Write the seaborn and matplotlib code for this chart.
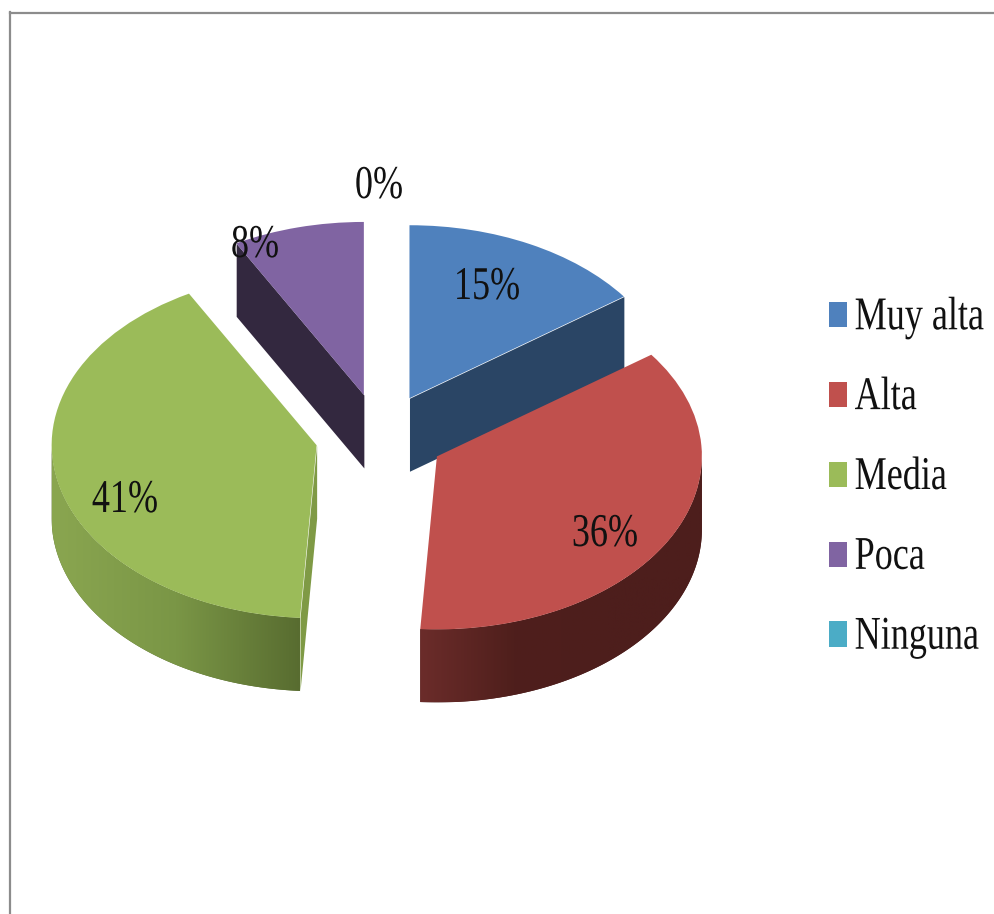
import matplotlib
matplotlib.use('Agg')
import matplotlib.patheffects as path_effects
import matplotlib.pyplot as plt
from matplotlib.colors import LinearSegmentedColormap
from matplotlib.transforms import Affine2D
import numpy as np
import seaborn as sns

categories = ['Muy alta', 'Alta', 'Media', 'Poca', 'Ninguna']
values = [15, 36, 41, 8, 0]
colors = ['#4f81bd', '#c0504d', '#9bbb59', '#8064a2', '#4bacc6']

sns.set_theme(style='white')
plt.rcParams['font.family'] = ['Liberation Serif', 'DejaVu Serif']

# Pixel layout of the picture, the pie is squashed to look tilted
W, H = 995, 914
CX, CY, RX, RY = 380, 436, 265, 173
DEPTH = 73 / RY


def to_x(px):
    return (px - CX) / RX


def to_y(py):
    return (CY - py) / RY


class TallText(path_effects.AbstractPathEffect):
    # The text in the picture is stretched upwards
    def __init__(self, drop=0):
        super().__init__()
        self.drop = drop

    def draw_path(self, renderer, gc, tpath, affine, rgbFace=None):
        shifted = Affine2D().scale(1, 1.3) + affine + Affine2D().translate(0, -self.drop)
        renderer.draw_path(gc, tpath, shifted, rgbFace)


fig = plt.figure(figsize=(W / 100, H / 100), dpi=100)
ax = fig.add_axes([9.5 / W, 0, 1 - 9.5 / W, 1 - 12.5 / H])
wedges, _ = ax.pie(values, colors=colors, explode=[0.245] * 5, startangle=90,
                   counterclock=False, wedgeprops={'linewidth': 0})
for w in wedges:
    w.set_zorder(5)


def wall(wedge, start, end, shades):
    # Outer rim of a slice, a horizontal gradient clipped to the rim shape
    angles = np.radians(np.linspace(start, end, 120))
    xs = wedge.center[0] + np.cos(angles)
    ys = wedge.center[1] + np.sin(angles)
    rim, = ax.fill(np.r_[xs, xs[::-1]], np.r_[ys, ys[::-1] - DEPTH], color=shades[-1], lw=0, zorder=2)
    cmap = LinearSegmentedColormap.from_list('rim', shades)
    grad = np.linspace(0, 1, 256).reshape(1, -1)
    if xs[0] > xs[-1]:
        grad = grad[:, ::-1]
    img = ax.imshow(grad, cmap=cmap, aspect='auto', zorder=3,
                    extent=(xs.min(), xs.max(), ys.min() - DEPTH, ys.max()))
    img.set_clip_path(rim)


def cut_face(wedge, angle, color, zorder):
    # Flat face along the radius of a slice
    a = np.radians(angle)
    xs = [wedge.center[0], wedge.center[0] + np.cos(a)]
    ys = np.array([wedge.center[1], wedge.center[1] + np.sin(a)])
    ax.fill_between(xs, ys - DEPTH, ys, color=color, lw=0, zorder=zorder)


cut_face(wedges[0], wedges[0].theta1, '#2a4565', 1)
cut_face(wedges[3], wedges[3].theta2, '#33283f', 1)
cut_face(wedges[2], wedges[2].theta2, '#7f9a45', 1)

wall(wedges[1], wedges[1].theta1, 0, ['#6b2c2a', '#4f1f1c', '#4d1e1c', '#4d1e1c'])
wall(wedges[2], -180, wedges[2].theta2, ['#8aa650', '#7a9646', '#586c30'])

ax.set(aspect='auto', frame_on=True, xlim=(to_x(9.5), to_x(W)), ylim=(to_y(H), to_y(12.5)))
sns.despine(ax=ax, top=False, right=True, bottom=True, left=False)
for side in ['left', 'top']:
    ax.spines[side].set(color='#8c8c8c', linewidth=1.6)

# Labels of the slices, placed on their baselines
label_x = [487, 605, 125, 255, 379]
label_y = [299, 546, 512, 257, 198]
for v, lx, ly in zip(values, label_x, label_y):
    t = ax.text(to_x(lx), to_y(ly), f'{v}%', ha='center', va='baseline', fontsize=26,
                color='#111111', zorder=8)
    t.set_path_effects([TallText()])

legend = ax.legend(wedges, categories, loc='upper left', bbox_to_anchor=(829 / W, 1 - 302 / H),
                   bbox_transform=fig.transFigure, frameon=False, fontsize=26, borderpad=0,
                   borderaxespad=0, handlelength=0.49, handleheight=0.7, handletextpad=0.22,
                   labelspacing=1.29, labelcolor='#111111')
for t in legend.get_texts():
    t.set_path_effects([TallText(drop=2)])

fig.savefig('out.png', dpi=100)
